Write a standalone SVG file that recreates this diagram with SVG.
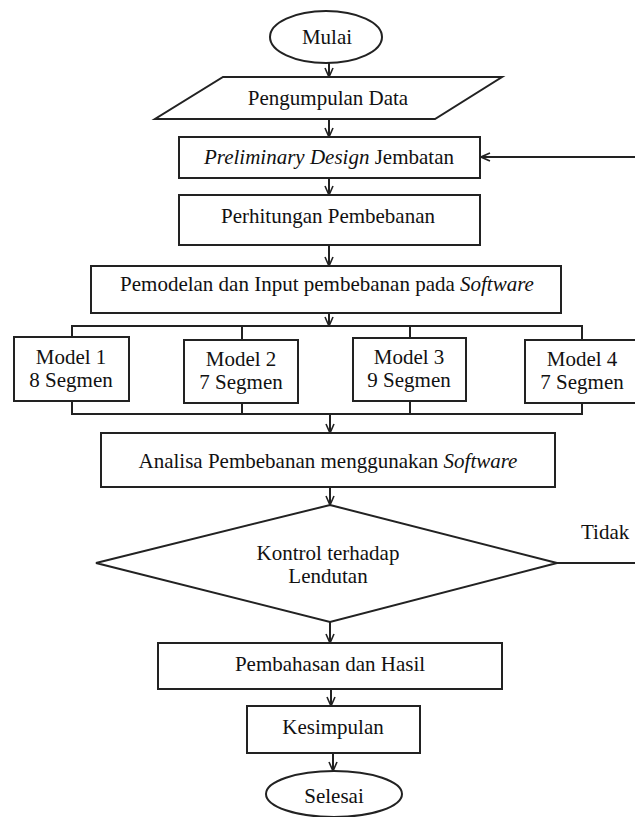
<svg xmlns="http://www.w3.org/2000/svg" width="635" height="817" viewBox="0 0 635 817">
<style>
.s{fill:#fff;stroke:#222;stroke-width:2}
.c{fill:none;stroke:#222;stroke-width:2}
text{font-family:'Liberation Serif','Times New Roman',Tinos,'DejaVu Serif',serif;font-size:21px;fill:#111;text-anchor:middle}
.i{font-style:italic}
</style>
<defs>
<marker id="ah" viewBox="0 0 10 10" refX="10" refY="5" markerWidth="10" markerHeight="10" markerUnits="userSpaceOnUse" orient="auto">
<path d="M1,1 L10,5 L1,9" fill="none" stroke="#222" stroke-width="1.6"/>
</marker>
</defs>
<rect width="635" height="817" fill="#fff"/>
<g id="connectors">
<line class="c" x1="329" y1="63" x2="329" y2="77" marker-end="url(#ah)"/>
<line class="c" x1="329" y1="119" x2="329" y2="137" marker-end="url(#ah)"/>
<line class="c" x1="329" y1="178" x2="329" y2="195" marker-end="url(#ah)"/>
<line class="c" x1="329" y1="245" x2="329" y2="266" marker-end="url(#ah)"/>
<line class="c" x1="329" y1="313" x2="329" y2="326" marker-end="url(#ah)"/>
<polyline class="c" points="72,337 72,326 582,326 582,340"/>
<line class="c" x1="242" y1="326" x2="242" y2="340"/>
<line class="c" x1="410" y1="326" x2="410" y2="338"/>
<polyline class="c" points="72,401 72,414 582,414 582,403"/>
<line class="c" x1="242" y1="403" x2="242" y2="414"/>
<line class="c" x1="410" y1="401" x2="410" y2="414"/>
<line class="c" x1="330" y1="414" x2="330" y2="433" marker-end="url(#ah)"/>
<line class="c" x1="330" y1="487" x2="330" y2="505" marker-end="url(#ah)"/>
<line class="c" x1="330" y1="622" x2="330" y2="643" marker-end="url(#ah)"/>
<line class="c" x1="331" y1="689" x2="331" y2="706" marker-end="url(#ah)"/>
<line class="c" x1="333" y1="753" x2="333" y2="771" marker-end="url(#ah)"/>
<line class="c" x1="557" y1="563" x2="635" y2="563"/>
<line class="c" x1="635" y1="157" x2="481" y2="157" marker-end="url(#ah)"/>
</g>
<g id="mulai"><ellipse class="s" cx="326" cy="37" rx="56" ry="26"/><text x="327" y="44">Mulai</text></g>
<g id="pengumpulan"><polygon class="s" points="223,77 502,77 435,119 155,119"/><text x="328" y="105">Pengumpulan Data</text></g>
<g id="preliminary"><rect class="s" x="179" y="137" width="301" height="41"/><text x="329" y="164"><tspan class="i">Preliminary Design</tspan> Jembatan</text></g>
<g id="perhitungan"><rect class="s" x="179" y="195" width="301" height="50"/><text x="328" y="223">Perhitungan Pembebanan</text></g>
<g id="pemodelan"><rect class="s" x="91" y="266" width="470" height="47"/><text x="327" y="291">Pemodelan dan Input pembebanan pada <tspan class="i">Software</tspan></text></g>
<g id="model1"><rect class="s" x="14" y="337" width="115" height="64"/><text x="71" y="364">Model 1</text><text x="71" y="387">8 Segmen</text></g>
<g id="model2"><rect class="s" x="184" y="340" width="114" height="63"/><text x="241" y="366">Model 2</text><text x="241" y="389">7 Segmen</text></g>
<g id="model3"><rect class="s" x="353" y="338" width="113" height="63"/><text x="409" y="364">Model 3</text><text x="409" y="387">9 Segmen</text></g>
<g id="model4"><rect class="s" x="525" y="340" width="115" height="63"/><text x="582" y="366">Model 4</text><text x="582" y="389">7 Segmen</text></g>
<g id="analisa"><rect class="s" x="101" y="433" width="454" height="54"/><text x="328" y="468">Analisa Pembebanan menggunakan <tspan class="i">Software</tspan></text></g>
<g id="kontrol"><polygon class="s" points="330,505 557,563 330,622 96,563"/><text x="328" y="560">Kontrol terhadap</text><text x="328" y="583">Lendutan</text></g>
<g id="tidak"><text x="581" y="539" style="text-anchor:start">Tidak</text></g>
<g id="pembahasan"><rect class="s" x="158" y="643" width="344" height="46"/><text x="330" y="671">Pembahasan dan Hasil</text></g>
<g id="kesimpulan"><rect class="s" x="247" y="706" width="173" height="47"/><text x="333" y="734">Kesimpulan</text></g>
<g id="selesai"><ellipse class="s" cx="334" cy="794" rx="68" ry="23"/><text x="334" y="803">Selesai</text></g>
</svg>
